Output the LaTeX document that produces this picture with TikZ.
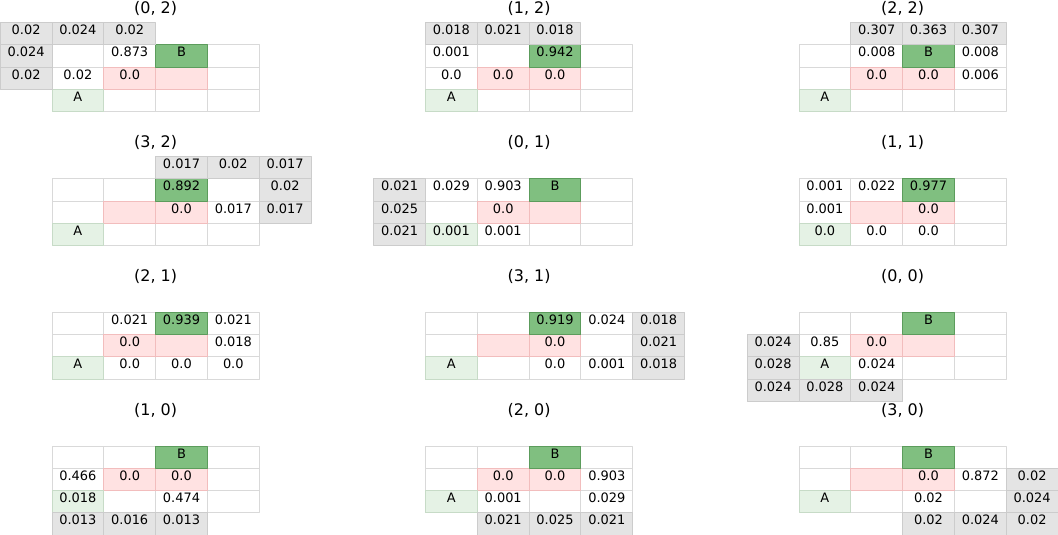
\documentclass[tikz,border=0pt]{standalone}
\usepackage{fontspec}
\setmainfont{DejaVu Sans}
\usepackage{pgf,tikz}
\definecolor{dpdpdp}{rgb}{0.85,0.85,0.85}
\definecolor{etetet}{rgb}{0.894,0.894,0.894}
\definecolor{cccccc}{rgb}{0.8,0.8,0.8}
\definecolor{oqbfoq}{rgb}{0.5,0.75,0.5}
\definecolor{zcpczc}{rgb}{0.36,0.61,0.36}
\definecolor{ffeeee}{rgb}{1,0.886,0.886}
\definecolor{febcbc}{rgb}{0.95,0.74,0.74}
\definecolor{ezfeez}{rgb}{0.9,0.95,0.9}
\definecolor{codcco}{rgb}{0.78,0.86,0.78}

\begin{document}
\begin{tikzpicture}[line cap=round,line join=round,x=1bp,y=-1bp,
  cellbox/.style={draw=dpdpdp,line width=1bp},
  wallcell/.style={draw=febcbc,fill=ffeeee,line width=1bp},
  goalcell/.style={draw=zcpczc,fill=oqbfoq,line width=1bp},
  startcell/.style={draw=codcco,fill=ezfeez,line width=1bp},
  outcell/.style={draw=cccccc,fill=etetet,line width=1bp},
  valtext/.style={anchor=base,inner sep=0pt,font=\fontsize{13}{15}\selectfont},
  paneltitle/.style={anchor=base,inner sep=0pt,font=\fontsize{16}{19}\selectfont}]
      \useasboundingbox (0,0) rectangle (1058,535);
      \def\cw{51.8}
      \def\ch{22.3}
      \foreach \ox/\oy/\ax/\ay/\vals in {
        52/45/0/2/{0.02,0.024,0.02,0.024,{},0.873,0.02,0.02,0.0},
        425.5/45/1/2/{0.018,0.021,0.018,0.001,{},0.942,0.0,0.0,0.0},
        799/45/2/2/{0.307,0.363,0.307,0.008,B,0.008,0.0,0.0,0.006},
        52/179/3/2/{0.017,0.02,0.017,0.892,{},0.02,0.0,0.017,0.017},
        425.5/179/0/1/{0.021,0.029,0.903,0.025,{},0.0,0.021,0.001,0.001},
        799/179/1/1/{0.001,0.022,0.977,0.001,{},0.0,0.0,0.0,0.0},
        52/312.4/2/1/{0.021,0.939,0.021,0.0,{},0.018,0.0,0.0,0.0},
        425.5/312.4/3/1/{0.919,0.024,0.018,0.0,{},0.021,0.0,0.001,0.018},
        799/312.4/0/0/{0.024,0.85,0.0,0.028,A,0.024,0.024,0.028,0.024},
        52/446/1/0/{0.466,0.0,0.0,0.018,{},0.474,0.013,0.016,0.013},
        425.5/446/2/0/{0.0,0.0,0.903,0.001,{},0.029,0.021,0.025,0.021},
        799/446/3/0/{0.0,0.872,0.02,0.02,{},0.024,0.02,0.024,0.02}}
      {
      \pgfmathtruncatemacro\arow{2-\ay}
      \foreach \cx in {0,...,3}
      \foreach \ry in {0,1,2}
      \draw[cellbox] (\ox+\cx*\cw,\oy+\ry*\ch) rectangle +(\cw,\ch);
      \draw[wallcell] (\ox+\cw,\oy+\ch) rectangle +(2*\cw,\ch);
      \draw[wallcell] (\ox+2*\cw,\oy+\ch) -- +(0,\ch);
      \draw[goalcell] (\ox+2*\cw,\oy) rectangle +(\cw,\ch);
      \draw[startcell] (\ox,\oy+2*\ch) rectangle +(\cw,\ch);
      \node[paneltitle] (t\ax\ay) at (\ox+2*\cw,\oy-31) {(\ax, \ay)};
      \pgfmathtruncatemacro\showA{(abs(\ax)>1)||(abs(\arow-2)>1)}
      \pgfmathtruncatemacro\showB{(abs(\ax-2)>1)||(abs(\arow)>1)}
      \ifnum\showA=1 \node[valtext] (a\ax\ay) at (\ox+\cw/2,\oy+2*\ch+12) {A}; \fi
      \ifnum\showB=1 \node[valtext] (b\ax\ay) at (\ox+2.5*\cw,\oy+12) {B}; \fi
      \foreach \v [count=\k from 0] in \vals {
        \pgfmathtruncatemacro\cx{\ax+mod(\k,3)-1}
        \pgfmathtruncatemacro\ry{\arow+div(\k,3)-1}
        \pgfmathtruncatemacro\isout{(\cx<0)||(\cx>3)||(\ry<0)||(\ry>2)}
        \ifnum\isout=1 \draw[outcell] (\ox+\cx*\cw,\oy+\ry*\ch) rectangle +(\cw,\ch); \fi
        \node[valtext] (v\k) at (\ox+\cx*\cw+\cw/2,\oy+\ry*\ch+12) {\v};
      }
      }
    \end{tikzpicture}
\end{document}
